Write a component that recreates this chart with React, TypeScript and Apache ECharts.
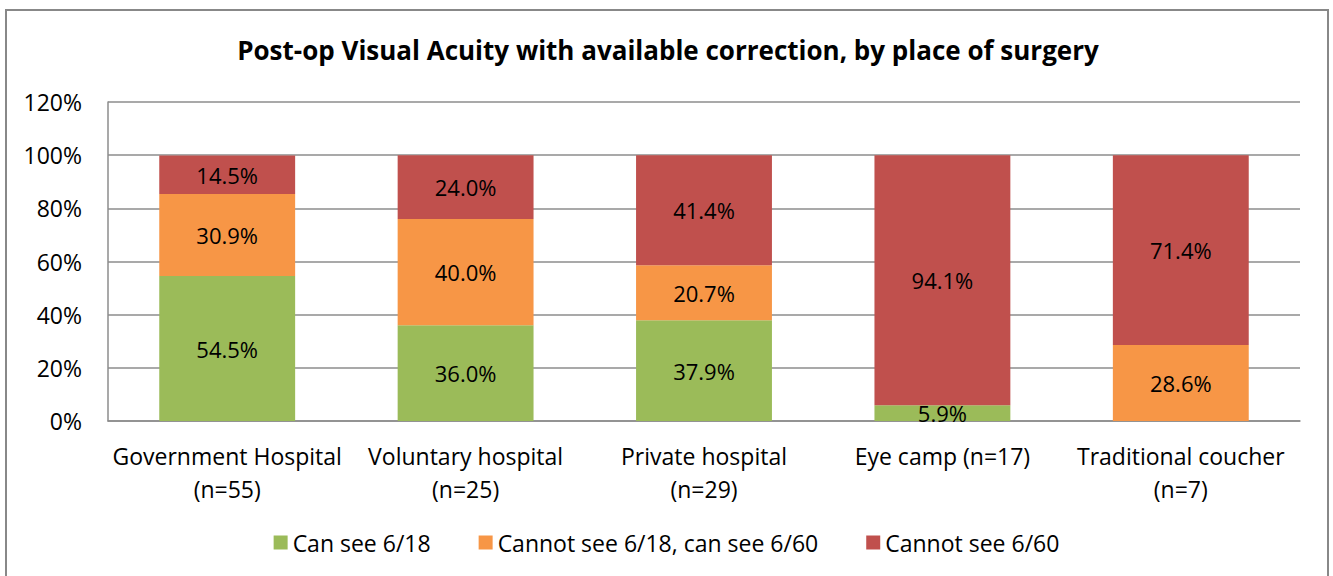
import React, { useEffect, useRef } from "react";
import * as echarts from "echarts";

const categories = [
  "Government Hospital\n(n=55)",
  "Voluntary hospital\n(n=25)",
  "Private hospital\n(n=29)",
  "Eye camp (n=17)",
  "Traditional coucher\n(n=7)",
];
const canSee618 = [54.5, 36.0, 37.9, 5.9, 0];
const cannot618CanSee660 = [30.9, 40.0, 20.7, 0, 28.6];
const cannotSee660 = [14.5, 24.0, 41.4, 94.1, 71.4];
const seriesNames = ["Can see 6/18", "Cannot see 6/18, can see 6/60", "Cannot see 6/60"];
const colors = ["#9BBB59", "#F79646", "#C0504D"];
const titleText = "Post-op Visual Acuity with available correction, by place of surgery";

const FONT = "'Open Sans', sans-serif";
const FS = 23;

export default function App() {
  const ref = useRef<HTMLDivElement>(null);
  useEffect(() => {
    if (!ref.current) return;
    const chart = echarts.init(ref.current, null, { renderer: "svg" });
    const dataSets = [canSee618, cannot618CanSee660, cannotSee660];
    chart.setOption({
      animation: false,
      textStyle: { fontFamily: FONT },
      graphic: [
        {
          type: "rect",
          shape: { x: 6, y: 10, width: 1322, height: 600 },
          style: { fill: "none", stroke: "#888", lineWidth: 2 },
          silent: true,
        },
        {
          type: "text",
          x: 668,
          y: 50,
          style: {
            text: titleText,
            fontFamily: FONT,
            fontWeight: "bold",
            fontSize: 26,
            fill: "#000",
            textAlign: "center",
            textVerticalAlign: "middle",
          },
        },
      ],
      grid: { left: 108, right: 33, top: 102, bottom: 155 },
      legend: {
        bottom: 17,
        left: "center",
        itemWidth: 14,
        itemHeight: 14,
        itemGap: 48,
        icon: "rect",
        textStyle: { fontSize: FS, color: "#000", fontFamily: FONT },
        data: seriesNames,
      },
      xAxis: {
        type: "category",
        data: categories,
        axisLine: { show: true, lineStyle: { color: "#8c8c8c", width: 1.5 } },
        axisTick: { show: false },
        axisLabel: {
          fontSize: FS,
          color: "#000",
          lineHeight: 33,
          margin: 18,
          interval: 0,
          fontFamily: FONT,
        },
      },
      yAxis: {
        type: "value",
        min: 0,
        max: 120,
        interval: 20,
        axisLine: { show: true, lineStyle: { color: "#8c8c8c", width: 1.5 } },
        axisTick: { show: false },
        splitLine: { show: true, lineStyle: { color: "#8c8c8c", width: 1.5 } },
        axisLabel: {
          formatter: "{value}%",
          fontSize: FS,
          color: "#000",
          margin: 26,
          fontFamily: FONT,
        },
      },
      series: seriesNames.map((name, i) => ({
        name,
        type: "bar",
        stack: "total",
        barWidth: "57%",
        itemStyle: { color: colors[i] },
        label: {
          show: true,
          position: "inside",
          fontSize: FS - 1,
          color: "#000",
          fontFamily: FONT,
          formatter: (p: any) => (p.value ? `${Number(p.value).toFixed(1)}%` : ""),
        },
        data: dataSets[i],
      })),
    });
    return () => chart.dispose();
  }, []);
  return (
    <div
      ref={ref}
      style={{ position: "fixed", left: 0, top: 0, width: 1333, height: 576, background: "#fff" }}
    />
  );
}
